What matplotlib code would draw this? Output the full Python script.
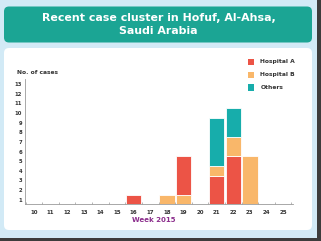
import matplotlib
matplotlib.use("Agg")
import matplotlib.pyplot as plt
from matplotlib.patches import FancyBboxPatch, Rectangle
import numpy as np

# ---- data ----
weeks = list(range(10, 26))
hospital_a = [0, 0, 0, 0, 0, 0, 1, 0, 0, 4, 0, 3, 5, 0, 0, 0]
hospital_b = [0, 0, 0, 0, 0, 0, 0, 0, 1, 1, 0, 1, 2, 5, 0, 0]
others     = [0, 0, 0, 0, 0, 0, 0, 0, 0, 0, 0, 5, 3, 0, 0, 0]
series_names = ["Hospital A", "Hospital B", "Others"]
y_tick_labels = [str(i) for i in range(1, 14)]
title = "Recent case cluster in Hofuf, Al-Ahsa,\nSaudi Arabia"
y_label = "No. of cases"
x_label = "Week 2015"
# stacking order (bottom -> top); week 19 has Hospital B below Hospital A
default_order = ["Hospital A", "Hospital B", "Others"]
special_order = {19: ["Hospital B", "Hospital A", "Others"]}

colors = {"Hospital A": "#ec5446", "Hospital B": "#f9b76a", "Others": "#17adab"}
values = {"Hospital A": hospital_a, "Hospital B": hospital_b, "Others": others}

W, H = 321, 241
fig = plt.figure(figsize=(W / 100, H / 100), dpi=100)
fig.patch.set_facecolor("#d2eaf6")

# background layer in pixel coordinates
bg = fig.add_axes([0, 0, 1, 1], zorder=0)
bg.set_xlim(0, W)
bg.set_ylim(H, 0)
bg.axis("off")
bg.add_patch(FancyBboxPatch((4, 6.5), 308, 36, boxstyle="round,pad=0,rounding_size=5",
                            facecolor="#1ba594", edgecolor="none"))
bg.add_patch(FancyBboxPatch((4, 48), 308, 182, boxstyle="round,pad=0,rounding_size=5",
                            facecolor="white", edgecolor="none"))
# window shadow on right/bottom edges
bg.add_patch(Rectangle((316.5, 0), 4.5, H, facecolor="#3c3c3c", edgecolor="none"))
bg.add_patch(Rectangle((0, 237.5), W, 3.5, facecolor="#3c3c3c", edgecolor="none"))
bg.text(158.5, 24.5, title, ha="center", va="center", color="white",
        fontsize=7.9, fontweight="bold", linespacing=1.45)

# chart axes
left_px, right_px, top_px, bottom_px = 25, 292.7, 79.5, 204.3
ax = fig.add_axes([left_px / W, (H - bottom_px) / H, (right_px - left_px) / W,
                   (bottom_px - top_px) / H], zorder=2)
ax.patch.set_alpha(0)
for i, wk in enumerate(weeks):
    order = special_order.get(wk, default_order)
    bottom = 0
    for name in order:
        v = values[name][i]
        if v:
            ax.bar(wk, v, bottom=bottom, width=0.93, color=colors[name],
                   edgecolor="white", linewidth=0.6)
            bottom += v
ax.set_xlim(9.46, 25.58)
ax.set_ylim(0, 13)
for s in ["top", "right"]:
    ax.spines[s].set_visible(False)
for s in ["left", "bottom"]:
    ax.spines[s].set_color("#9a9a9a")
    ax.spines[s].set_linewidth(0.6)
ax.set_xticks(weeks)
ax.set_xticklabels([str(w) for w in weeks])
ax.set_xticks(np.arange(9.5, 26, 1), minor=True)
ax.tick_params(axis="x", which="major", length=0, pad=4, labelsize=4, labelcolor="#333333")
ax.tick_params(axis="x", which="minor", length=1.5, direction="in", color="#9a9a9a", width=0.5)
ax.set_yticks(np.arange(1, 14) - 0.5)
ax.set_yticklabels(y_tick_labels)
ax.tick_params(axis="y", length=0, pad=2, labelsize=3.8, labelcolor="#333333")
for lab in ax.get_xticklabels() + ax.get_yticklabels():
    lab.set_fontweight("bold")

bg.text(17, 72.5, y_label, ha="left", va="center", fontsize=4.3, fontweight="bold", color="#333333")
bg.text(154, 220.5, x_label, ha="center", va="center", fontsize=5, fontweight="bold", color="#8b2d8c")

# legend
for j, name in enumerate(series_names):
    yy = 62 + j * 12.8
    bg.add_patch(Rectangle((247.5, yy - 3.3), 6.5, 6.6, facecolor=colors[name], edgecolor="none"))
    bg.text(260.5, yy, name, ha="left", va="center", fontsize=4.3, fontweight="bold", color="#333333")

fig.savefig("out.png", dpi=100, facecolor=fig.get_facecolor())
